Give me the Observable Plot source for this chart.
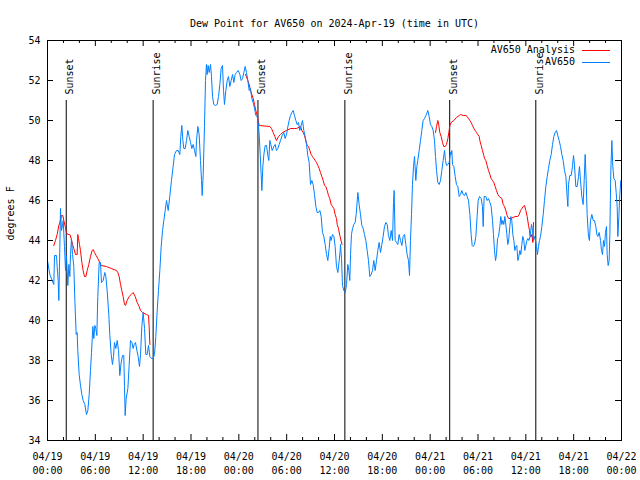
<!DOCTYPE html>
<html><head><meta charset="utf-8">
<script src="https://cdn.jsdelivr.net/npm/d3@7"></script>
<script src="https://cdn.jsdelivr.net/npm/@observablehq/plot@0.6"></script>
<style>body{margin:0;background:#fff} svg{display:block}</style>
</head><body><div id="chart"></div>
<script>
const title = "Dew Point for AV650 on 2024-Apr-19 (time in UTC)";
const yLabel = "degrees F";
const seriesNames = ["AV650 Analysis", "AV650"];
const seriesColors = ["#ff0000", "#0080ff"];

// AV650 observations: [hours since 2024-04-19 00:00 UTC, dew point F]
const obsPoints = [
[0,43.0],[0.29,42.3],[0.59,42.0],[0.79,41.8],[0.88,43.25],[1.13,43.25],[1.21,42.7],[1.34,42.0],[1.42,41.0],[1.55,43.7],
[1.63,45.6],[1.76,44.5],[1.88,44.75],[1.97,45.0],[2.13,43.7],[2.26,42.5],[2.38,43.25],[2.55,41.75],[2.68,42.8],[2.80,42.2],
[2.89,43.3],[3.01,44.1],[3.14,43.3],[3.30,42.7],[3.43,41.0],[3.60,39.3],[3.72,39.4],[3.80,38.5],[3.97,37.3],[4.14,36.75],
[4.31,36.3],[4.47,36.0],[4.68,35.8],[4.89,35.3],[5.06,35.5],[5.23,36.3],[5.39,37.5],[5.52,38.4],[5.69,39.7],[5.81,39.1],
[5.94,39.75],[6.06,39.6],[6.19,39.25],[6.31,41.2],[6.48,42.9],[6.65,42.9],[6.77,41.9],[6.98,42.0],[7.19,42.4],[7.32,42.2],
[7.48,41.5],[7.69,40.3],[7.82,39.25],[7.99,38.3],[8.15,37.8],[8.28,38.2],[8.40,38.9],[8.57,38.6],[8.74,39.0],[8.91,38.5],
[9.07,37.25],[9.24,37.9],[9.41,38.25],[9.57,38.25],[9.66,36.7],[9.74,35.25],[9.87,36.1],[10.08,36.6],[10.24,37.75],[10.41,39.0],
[10.58,38.9],[10.75,38.6],[10.87,38.8],[11.04,38.9],[11.21,38.5],[11.37,38.2],[11.54,37.7],[11.67,38.3],[11.83,39.7],[12.00,40.4],
[12.17,39.6],[12.33,38.3],[12.50,38.3],[12.67,38.75],[12.84,38.2],[13.05,38.1],[13.25,38.1],[13.42,38.3],[13.59,39.2],[13.76,40.5],
[13.92,41.5],[14.09,42.5],[14.26,43.7],[14.43,44.5],[14.59,45.0],[14.76,45.5],[14.93,46.0],[15.14,45.5],[15.34,46.2],[15.55,47.0],
[15.76,47.7],[15.93,48.3],[16.18,48.5],[16.39,48.5],[16.60,48.3],[16.72,49.2],[16.85,49.75],[16.98,49.0],[17.10,48.6],[17.27,48.6],
[17.44,49.0],[17.60,49.5],[17.77,49.2],[17.94,48.9],[18.10,48.6],[18.27,48.8],[18.44,48.5],[18.61,48.2],[18.69,49.0],[18.86,49.7],
[19.02,49.3],[19.19,48.0],[19.32,47.0],[19.40,46.25],[19.53,47.3],[19.69,49.7],[19.82,52.0],[19.94,52.8],[20.03,52.3],[20.15,52.75],
[20.28,52.4],[20.45,52.8],[20.57,52.2],[20.70,51.2],[20.86,50.8],[21.07,50.75],[21.28,50.8],[21.45,51.2],[21.62,51.8],[21.78,52.6],
[21.95,52.75],[22.08,51.5],[22.20,50.8],[22.37,51.5],[22.54,52.0],[22.70,52.2],[22.87,51.7],[23.04,52.0],[23.21,52.3],[23.37,51.9],
[23.54,52.3],[23.71,52.4],[23.92,52.5],[24.13,52.3],[24.29,52.0],[24.46,52.1],[24.63,52.4],[24.79,52.7],[24.96,52.4],[25.13,52.0],
[25.30,51.5],[25.46,51.6],[25.63,51.1],[25.80,50.9],[25.97,50.6],[26.13,50.25],[26.30,50.2],[26.43,49.9],[26.55,49.3],[26.68,48.3],
[26.80,47.3],[26.89,46.5],[27.01,47.7],[27.14,48.3],[27.30,48.75],[27.47,48.75],[27.64,48.25],[27.76,48.0],[27.89,49.0],[28.01,48.8],
[28.18,48.5],[28.39,48.7],[28.56,48.8],[28.72,48.5],[28.89,48.6],[29.06,48.8],[29.23,49.0],[29.44,49.25],[29.64,49.4],[29.81,49.1],
[29.98,49.3],[30.15,49.7],[30.31,50.0],[30.48,50.25],[30.65,50.4],[30.82,50.5],[30.98,50.25],[31.15,50.0],[31.32,49.8],[31.48,49.9],
[31.65,49.5],[31.82,49.75],[31.99,50.0],[32.15,49.5],[32.32,49.2],[32.49,48.8],[32.65,48.25],[32.82,47.9],[32.99,46.8],[33.16,47.0],
[33.32,46.8],[33.49,46.3],[33.66,45.7],[33.83,45.4],[33.99,45.4],[34.16,45.5],[34.33,45.2],[34.49,44.4],[34.66,44.2],[34.83,43.8],
[35.00,43.3],[35.16,43.0],[35.33,43.6],[35.46,44.2],[35.58,44.0],[35.75,44.3],[35.92,44.2],[36.08,43.7],[36.25,42.7],[36.42,42.4],
[36.59,43.0],[36.71,43.5],[36.75,43.8],[36.88,43.1],[37.00,41.75],[37.17,41.5],[37.34,41.4],[37.51,41.8],[37.67,42.8],[37.80,42.5],
[37.92,42.0],[38.01,43.3],[38.13,44.3],[38.26,44.6],[38.42,44.8],[38.59,44.9],[38.72,45.3],[38.93,46.4],[39.09,45.8],[39.26,45.3],
[39.43,44.75],[39.60,44.6],[39.76,44.3],[39.93,44.0],[40.10,43.5],[40.26,43.0],[40.43,42.2],[40.60,42.3],[40.77,42.5],[40.93,43.0],
[41.10,42.5],[41.27,43.0],[41.43,43.5],[41.60,43.9],[41.77,43.4],[41.94,43.8],[42.10,44.2],[42.27,44.7],[42.44,44.9],[42.61,44.8],
[42.77,44.25],[42.94,44.0],[43.11,44.5],[43.28,44.0],[43.40,45.9],[43.48,46.5],[43.61,44.0],[43.78,43.9],[43.94,43.8],[44.11,44.3],
[44.28,44.0],[44.45,43.75],[44.61,44.2],[44.78,44.3],[44.95,43.8],[45.11,43.3],[45.28,43.0],[45.41,42.25],[45.53,44.0],[45.66,45.3],
[45.78,46.8],[45.91,47.7],[46.04,48.2],[46.20,47.0],[46.33,47.7],[46.45,48.0],[46.62,48.5],[46.79,49.0],[46.95,49.5],[47.12,50.0],
[47.29,50.1],[47.46,50.25],[47.62,50.4],[47.71,50.5],[47.87,50.2],[48.04,49.8],[48.21,49.7],[48.38,49.5],[48.54,49.0],[48.67,48.2],
[48.80,47.5],[48.96,46.9],[49.13,46.8],[49.30,47.0],[49.46,47.5],[49.63,48.0],[49.80,48.5],[49.92,48.0],[50.05,47.75],[50.22,47.8],
[50.38,47.9],[50.55,48.4],[50.63,48.3],[50.72,48.5],[50.80,47.8],[50.97,47.7],[51.14,47.2],[51.30,46.8],[51.47,46.7],[51.64,46.2],
[51.81,46.3],[51.97,46.5],[52.14,46.3],[52.31,46.25],[52.47,46.4],[52.64,46.2],[52.81,46.0],[52.98,45.3],[53.14,44.3],[53.27,43.75],
[53.39,43.7],[53.56,43.8],[53.73,44.2],[53.89,45.2],[54.02,46.0],[54.19,46.2],[54.40,46.1],[54.56,45.7],[54.65,44.7],[54.77,46.2],
[54.98,46.2],[55.15,46.0],[55.32,46.1],[55.49,45.9],[55.65,45.7],[55.82,45.0],[55.94,44.3],[56.07,43.5],[56.20,43.0],[56.32,43.3],
[56.45,44.1],[56.57,44.2],[56.74,44.7],[56.86,45.2],[56.99,44.8],[57.12,45.0],[57.24,44.8],[57.37,45.2],[57.49,44.8],[57.62,44.3],
[57.74,43.8],[57.87,44.1],[57.99,44.7],[58.12,45.2],[58.24,45.0],[58.37,44.3],[58.50,44.0],[58.62,43.5],[58.75,43.7],[58.87,43.75],
[59.00,43.0],[59.12,43.2],[59.25,43.5],[59.37,43.3],[59.50,43.8],[59.62,44.2],[59.75,44.0],[59.87,43.5],[60.00,43.75],[60.13,44.0],
[60.25,44.1],[60.38,44.0],[60.54,44.2],[60.71,44.8],[60.84,44.5],[60.96,44.0],[61.09,44.2],[61.21,44.0],[61.34,43.7],[61.46,43.3],
[61.59,43.7],[61.71,44.0],[61.84,44.2],[62.01,44.7],[62.18,45.3],[62.34,46.0],[62.51,46.7],[62.68,47.2],[62.84,47.6],[63.01,48.0],
[63.18,48.3],[63.35,48.8],[63.51,49.2],[63.68,49.4],[63.85,49.5],[64.01,49.25],[64.18,49.0],[64.35,48.7],[64.52,48.3],[64.68,48.0],
[64.85,47.5],[65.02,47.2],[65.18,46.2],[65.27,45.7],[65.35,46.8],[65.52,47.25],[65.69,47.25],[65.85,47.7],[65.98,48.25],[66.10,47.8],
[66.27,46.7],[66.44,46.7],[66.61,47.2],[66.73,47.7],[66.86,47.0],[67.02,46.2],[67.19,45.8],[67.32,47.0],[67.44,48.3],[67.57,47.0],
[67.69,45.3],[67.86,44.2],[67.98,44.0],[68.11,45.0],[68.28,45.3],[68.45,45.0],[68.61,45.0],[68.78,44.7],[68.91,44.3],[69.03,44.2],
[69.20,44.4],[69.37,44.0],[69.49,43.5],[69.62,43.3],[69.74,44.0],[69.87,43.7],[69.99,44.4],[70.12,44.7],[70.20,43.3],[70.33,42.75],
[70.45,43.0],[70.54,44.3],[70.66,47.5],[70.79,49.0],[70.91,47.7],[71.04,47.1],[71.21,47.0],[71.33,46.4],[71.46,45.7],[71.54,44.2],
[71.67,45.2],[71.79,46.3],[71.92,47.0],[72.0,46.7]
];

// AV650 Analysis, three nightly segments
const analysisNight1 = [
[0.79,43.75],[1.00,44.0],[1.21,44.3],[1.42,44.75],[1.55,44.9],[1.76,45.25],[1.92,45.25],[2.05,45.0],[2.22,44.7],[2.38,44.4],
[2.55,44.3],[2.80,44.3],[2.97,44.1],[3.14,43.8],[3.30,43.6],[3.51,43.3],[3.72,43.3],[3.80,44.3],[3.89,44.1],[4.01,43.8],
[4.14,43.5],[4.31,42.9],[4.47,42.5],[4.64,42.2],[4.81,42.2],[4.98,42.5],[5.18,42.8],[5.39,43.2],[5.60,43.5],[5.73,43.55],
[5.90,43.4],[6.10,43.25],[6.31,43.1],[6.56,42.9],[6.73,42.75],[7.40,42.7],[7.99,42.6],[8.66,42.5],[8.82,42.4],[8.99,42.2],
[9.16,41.8],[9.32,41.5],[9.49,41.2],[9.66,40.8],[9.78,40.75],[9.99,41.0],[10.24,41.2],[10.50,41.3],[10.75,41.4],[11.00,41.2],
[11.25,40.9],[11.50,40.7],[11.67,40.5],[11.92,40.4],[12.42,40.3],[12.67,40.25],[12.75,39.7],[12.84,38.8]
];
const analysisNight2 = [
[24.84,52.3],[25.13,52.0],[25.30,51.8],[25.46,51.5],[25.63,51.3],[25.80,51.1],[25.97,50.8],[26.13,50.5],[26.30,50.25],[26.43,50.0],
[26.55,49.75],[27.89,49.7],[28.10,49.6],[28.31,49.4],[28.52,49.2],[28.72,49.0],[28.98,49.2],[29.23,49.3],[29.48,49.4],[29.98,49.5],
[30.48,49.6],[30.98,49.6],[31.23,49.6],[31.74,49.7],[31.90,49.5],[32.07,49.4],[32.24,49.25],[32.40,49.0],[32.57,48.75],[32.74,48.7],
[32.91,48.5],[33.07,48.3],[33.24,48.2],[33.41,48.1],[33.58,48.0],[33.74,47.9],[33.91,47.75],[34.08,47.6],[34.24,47.4],[34.41,47.2],
[34.58,47.0],[34.75,46.75],[34.91,46.7],[35.08,46.5],[35.25,46.25],[35.41,46.1],[35.58,45.8],[35.75,45.7],[35.92,45.6],[36.08,45.3],
[36.25,45.1],[36.34,44.8],[36.50,44.6],[36.67,44.25],[36.94,43.8]
];
const analysisNight3 = [
[48.67,49.4],[48.80,49.7],[48.96,50.0],[49.09,49.75],[49.21,49.4],[49.38,49.2],[49.55,48.9],[49.71,48.7],[49.88,48.7],[50.05,48.8],
[50.22,49.1],[50.34,49.4],[50.47,49.75],[50.63,49.9],[50.97,50.0],[51.30,50.15],[51.64,50.25],[51.81,50.3],[52.14,50.25],[52.47,50.25],
[52.64,50.2],[52.81,50.1],[52.98,50.0],[53.14,49.9],[53.31,49.75],[53.48,49.6],[53.65,49.5],[53.81,49.4],[53.98,49.3],[54.15,49.2],
[54.23,49.0],[54.40,48.75],[54.56,48.5],[54.73,48.25],[54.82,48.1],[54.98,48.0],[55.15,47.75],[55.32,47.5],[55.49,47.3],[55.65,47.1],
[55.82,47.0],[55.99,46.9],[56.15,46.7],[56.32,46.5],[56.49,46.3],[56.66,46.2],[56.99,46.1],[57.16,45.8],[57.32,45.7],[57.49,45.5],
[57.66,45.25],[57.83,45.1],[58.16,45.1],[58.66,45.2],[59.00,45.2],[59.17,45.3],[59.34,45.5],[59.50,45.6],[59.67,45.7],[59.84,45.75],
[60.00,45.5],[60.17,45.2],[60.34,44.75],[60.46,44.5],[60.54,44.2],[60.67,44.2],[60.75,44.3],[60.88,43.9],[60.96,44.9]
];

const eventHours = [2.35, 13.25, 26.4, 37.3, 50.45, 61.25];
const eventLabels = ["Sunset", "Sunrise", "Sunset", "Sunrise", "Sunset", "Sunrise"];
const yTicks = [34, 36, 38, 40, 42, 44, 46, 48, 50, 52, 54];
const xMajorHours = [0, 6, 12, 18, 24, 30, 36, 42, 48, 54, 60, 66, 72];
const xMinorHours = [2, 4, 8, 10, 14, 16, 20, 22, 26, 28, 32, 34, 38, 40, 44, 46, 50, 52, 56, 58, 62, 64, 68, 70];

const t0 = Date.UTC(2024, 3, 19);
const toDate = h => new Date(t0 + h * 3600e3);
const obs = obsPoints.map(([h, v]) => ({date: toDate(h), v}));
const ana = [analysisNight1, analysisNight2, analysisNight3].flatMap((seg, i) =>
  seg.map(([h, v]) => ({date: toDate(h), v, seg: i})));
const events = eventHours.map((h, i) => ({date: toDate(h), label: eventLabels[i]}));
const majorX = xMajorHours.map(toDate);
const minorX = xMinorHours.map(toDate);
const fmt = d3.utcFormat("%m/%d\n%H:%M");
const font = "'DejaVu Sans Mono', 'Liberation Mono', monospace";

const chart = Plot.plot({
  width: 640, height: 480,
  marginLeft: 47, marginRight: 19, marginTop: 40, marginBottom: 40,
  style: {fontFamily: font, fontSize: "10px", color: "black", background: "white", overflow: "visible"},
  x: {type: "utc", domain: [toDate(0), toDate(72)]},
  y: {domain: [34, 54]},
  marks: [
    Plot.axisX(majorX, {tickSize: 0, tickPadding: 9, tickFormat: fmt, lineHeight: 1.45, label: null}),
    Plot.axisY(yTicks, {tickSize: 0, tickPadding: 7, label: null}),
    Plot.tickX(majorX, {insetTop: 394, stroke: "black"}),
    Plot.tickX(majorX, {insetBottom: 394, stroke: "black"}),
    Plot.tickX(minorX, {insetTop: 397, stroke: "black"}),
    Plot.tickX(minorX, {insetBottom: 397, stroke: "black"}),
    Plot.tickY(yTicks, {insetRight: 568, stroke: "black"}),
    Plot.tickY(yTicks, {insetLeft: 568, stroke: "black"}),
    Plot.ruleX(events, {x: "date", insetTop: 60, stroke: "black"}),
    Plot.text(events, {x: "date", text: "label", frameAnchor: "top", dy: 54, rotate: -90, textAnchor: "start", fill: "black"}),
    Plot.line(ana, {x: "date", y: "v", z: "seg", stroke: seriesColors[0], strokeWidth: 1}),
    Plot.line(obs, {x: "date", y: "v", stroke: seriesColors[1], strokeWidth: 1}),
    Plot.frame({stroke: "black"}),
    Plot.text([title], {text: d => d, frameAnchor: "top", dy: -21, fill: "black"}),
    Plot.text([yLabel], {text: d => d, frameAnchor: "left", dx: -37, rotate: -90, fill: "black"})
  ]
});

// legend (top right, gnuplot-style key)
const svg = d3.select(chart);
const key = svg.append("g").attr("font-family", font).attr("font-size", 10);
seriesNames.forEach((name, i) => {
  const y = 50 + i * 12;
  key.append("text").attr("x", 575).attr("y", y).attr("dy", "0.32em")
    .attr("text-anchor", "end").attr("fill", "black").text(name);
  key.append("line").attr("x1", 582).attr("x2", 610).attr("y1", y + 0.5).attr("y2", y + 0.5)
    .attr("stroke", seriesColors[i]).attr("stroke-width", 1);
});

document.getElementById("chart").appendChild(chart);
</script>
</body></html>
